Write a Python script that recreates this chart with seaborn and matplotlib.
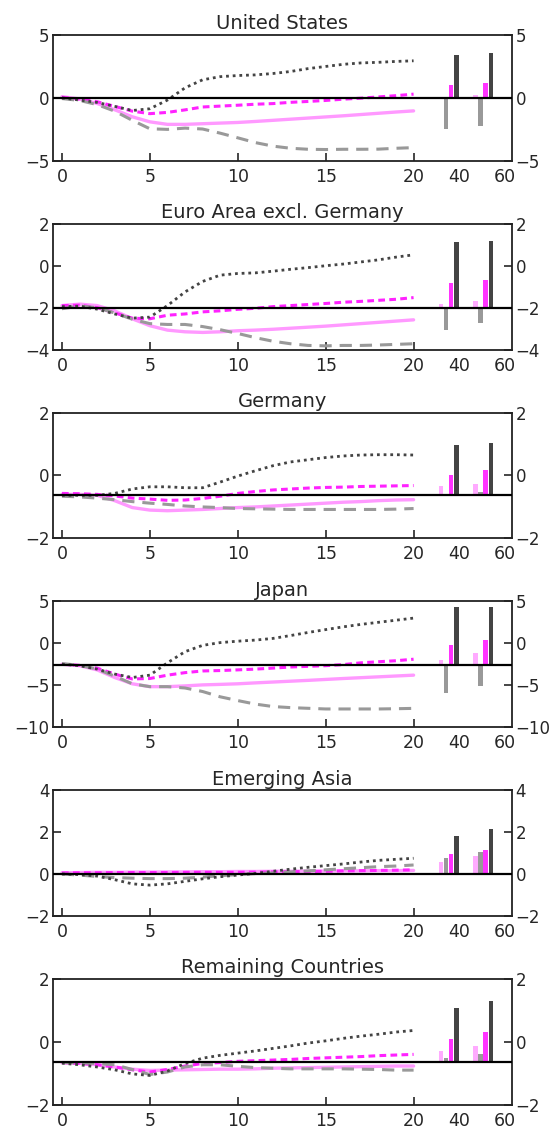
import numpy as np
import pandas as pd
import matplotlib.pyplot as plt
import seaborn as sns

# horizons of the impulse responses, plus the two long-run horizons shown as bars
horizons = list(range(21))
long_run = ['40', '60']

titles = ['United States', 'Euro Area excl. Germany', 'Germany', 'Japan',
          'Emerging Asia', 'Remaining Countries']
ylims = [(-5, 5), (-4, 2), (-2, 2), (-10, 5), (-2, 4), (-2, 2)]
yticks = [[-5, 0, 5], [-4, -2, 0, 2], [-2, 0, 2], [-10, -5, 0, 5], [-2, 0, 2, 4], [-2, 0, 2]]
baselines = [0, -2, -0.62, -2.55, 0, -0.63]

# United States
us_pink = [0.1, -0.08, -0.44, -0.94, -1.5, -1.9, -2.1, -2.1, -2.05, -2.0, -1.95, -1.87, -1.78, -1.69, -1.6, -1.51, -1.42, -1.32, -1.22, -1.12, -1.03]
us_mag = [0.05, -0.1, -0.3, -0.67, -1.05, -1.25, -1.15, -0.95, -0.72, -0.65, -0.58, -0.5, -0.45, -0.35, -0.28, -0.2, -0.1, -0.02, 0.08, 0.18, 0.3]
us_gray = [-0.05, -0.2, -0.53, -1.05, -1.78, -2.45, -2.5, -2.4, -2.47, -2.8, -3.17, -3.55, -3.83, -4.0, -4.08, -4.1, -4.08, -4.08, -4.07, -4.0, -3.95]
us_dot = [0, -0.17, -0.36, -0.67, -1.0, -0.86, -0.17, 0.8, 1.44, 1.69, 1.78, 1.83, 1.94, 2.1, 2.33, 2.5, 2.67, 2.78, 2.83, 2.9, 2.95]
us_bars = [[0.05, 0.2], [-2.5, -2.22], [1.0, 1.17], [3.42, 3.55]]

# Euro Area excl. Germany
ea_pink = [-1.9, -1.83, -1.9, -2.15, -2.53, -2.86, -3.07, -3.15, -3.18, -3.15, -3.1, -3.07, -3.03, -2.98, -2.93, -2.88, -2.82, -2.76, -2.7, -2.64, -2.58]
ea_mag = [-1.9, -1.88, -2.0, -2.25, -2.5, -2.53, -2.36, -2.3, -2.2, -2.15, -2.08, -2.03, -1.95, -1.9, -1.85, -1.8, -1.74, -1.7, -1.65, -1.6, -1.52]
ea_gray = [-2.05, -1.92, -2.0, -2.25, -2.55, -2.76, -2.8, -2.8, -2.9, -3.05, -3.23, -3.43, -3.6, -3.72, -3.8, -3.82, -3.8, -3.8, -3.78, -3.75, -3.72]
ea_dot = [-1.95, -1.93, -2.07, -2.3, -2.5, -2.45, -1.9, -1.25, -0.75, -0.45, -0.37, -0.34, -0.26, -0.17, -0.09, 0.0, 0.08, 0.18, 0.28, 0.41, 0.52]
ea_bars = [[-1.83, -1.67], [-3.08, -2.75], [-0.8, -0.7], [1.12, 1.2]]

# Germany
de_pink = [-0.6, -0.6, -0.63, -0.8, -1.02, -1.1, -1.12, -1.1, -1.08, -1.05, -1.02, -1.0, -0.97, -0.94, -0.91, -0.88, -0.85, -0.83, -0.8, -0.78, -0.77]
de_mag = [-0.57, -0.58, -0.6, -0.65, -0.72, -0.75, -0.79, -0.78, -0.73, -0.66, -0.57, -0.51, -0.46, -0.43, -0.4, -0.38, -0.37, -0.35, -0.34, -0.33, -0.32]
de_gray = [-0.66, -0.68, -0.72, -0.77, -0.83, -0.88, -0.92, -0.97, -1.0, -1.02, -1.05, -1.06, -1.07, -1.08, -1.08, -1.08, -1.08, -1.08, -1.08, -1.07, -1.05]
de_dot = [-0.63, -0.63, -0.63, -0.57, -0.43, -0.36, -0.36, -0.39, -0.39, -0.21, -0.02, 0.15, 0.31, 0.43, 0.5, 0.57, 0.62, 0.65, 0.66, 0.66, 0.65]
de_bars = [[-0.32, -0.27], [-0.62, -0.51], [0.0, 0.16], [0.96, 1.04]]

# Japan
jp_pink = [-2.5, -2.67, -3.17, -4.08, -4.83, -5.17, -5.17, -5.08, -4.96, -4.9, -4.83, -4.72, -4.62, -4.52, -4.42, -4.31, -4.2, -4.1, -4.0, -3.9, -3.8]
jp_mag = [-2.5, -2.63, -2.96, -3.67, -4.25, -4.2, -3.8, -3.5, -3.3, -3.25, -3.17, -3.08, -2.96, -2.83, -2.75, -2.67, -2.54, -2.33, -2.2, -2.08, -1.9]
jp_gray = [-2.42, -2.63, -3.08, -3.92, -4.83, -5.17, -5.17, -5.33, -5.75, -6.38, -6.83, -7.25, -7.54, -7.67, -7.75, -7.83, -7.83, -7.83, -7.83, -7.8, -7.76]
jp_dot = [-2.5, -2.67, -3.08, -3.67, -4.08, -3.8, -2.33, -1.0, -0.25, 0.08, 0.25, 0.38, 0.58, 0.92, 1.29, 1.63, 1.96, 2.25, 2.5, 2.75, 3.0]
jp_bars = [[-2.03, -1.2], [-5.88, -5.04], [-0.15, 0.35], [4.33, 4.33]]

# Emerging Asia
as_pink = [0.06, 0.07, 0.08, 0.08, 0.09, 0.09, 0.1, 0.1, 0.11, 0.11, 0.12, 0.12, 0.13, 0.13, 0.14, 0.14, 0.15, 0.15, 0.16, 0.16, 0.17]
as_mag = [0.05, 0.06, 0.06, 0.07, 0.07, 0.07, 0.07, 0.08, 0.08, 0.08, 0.08, 0.09, 0.1, 0.11, 0.12, 0.13, 0.15, 0.16, 0.17, 0.18, 0.2]
as_gray = [0, -0.05, -0.12, -0.17, -0.2, -0.22, -0.22, -0.2, -0.15, -0.08, -0.03, 0.02, 0.05, 0.1, 0.15, 0.2, 0.25, 0.3, 0.35, 0.38, 0.43]
as_dot = [0, -0.03, -0.1, -0.27, -0.47, -0.53, -0.47, -0.35, -0.23, -0.13, -0.05, 0.03, 0.13, 0.23, 0.32, 0.4, 0.48, 0.57, 0.65, 0.7, 0.75]
as_bars = [[0.57, 0.84], [0.74, 1.03], [0.94, 1.15], [1.8, 2.14]]

# Remaining Countries
rc_pink = [-0.66, -0.68, -0.73, -0.8, -0.87, -0.91, -0.9, -0.89, -0.88, -0.87, -0.87, -0.86, -0.84, -0.83, -0.82, -0.81, -0.8, -0.79, -0.78, -0.77, -0.77]
rc_mag = [-0.66, -0.69, -0.73, -0.8, -0.89, -0.96, -0.88, -0.77, -0.69, -0.66, -0.62, -0.6, -0.58, -0.56, -0.53, -0.51, -0.49, -0.47, -0.44, -0.42, -0.4]
rc_gray = [-0.66, -0.67, -0.69, -0.73, -0.88, -1.04, -0.96, -0.8, -0.73, -0.73, -0.78, -0.82, -0.84, -0.86, -0.86, -0.86, -0.86, -0.87, -0.88, -0.9, -0.9]
rc_dot = [-0.68, -0.73, -0.8, -0.89, -1.02, -1.07, -0.93, -0.69, -0.52, -0.43, -0.36, -0.29, -0.21, -0.13, -0.04, 0.03, 0.11, 0.18, 0.24, 0.31, 0.36]
rc_bars = [[-0.3, -0.12], [-0.5, -0.39], [0.08, 0.3], [1.07, 1.3]]

lines = [
    [us_pink, us_mag, us_gray, us_dot],
    [ea_pink, ea_mag, ea_gray, ea_dot],
    [de_pink, de_mag, de_gray, de_dot],
    [jp_pink, jp_mag, jp_gray, jp_dot],
    [as_pink, as_mag, as_gray, as_dot],
    [rc_pink, rc_mag, rc_gray, rc_dot],
]
bars = [us_bars, ea_bars, de_bars, jp_bars, as_bars, rc_bars]

# styles: (colour, linewidth, dashes)
line_styles = [
    ('#ff99ff', 2.4, None),
    ('#ff22ff', 2.2, (2.2, 1.4)),
    ('#999999', 2.2, (4.0, 2.6)),
    ('#444444', 2.0, (1.0, 1.4)),
]
bar_colors = ['#ffaaff', '#999999', '#ff33ff', '#444444']  # pink, gray, magenta, dark
group_pos = [22.0, 23.95]
bar_step = 0.29
bar_w = 0.24

sns.set_style('ticks')
plt.rcParams['font.family'] = ['DejaVu Sans']

fig, axes = plt.subplots(6, 1, figsize=(5.5, 11.29), dpi=100)
fig.subplots_adjust(left=0.096, right=0.931, top=0.969, bottom=0.0215, hspace=0.5)

for i, ax in enumerate(axes):
    base = baselines[i]
    for vals, (col, lw, dash) in zip(lines[i], line_styles):
        df = pd.DataFrame({'h': horizons, 'v': vals})
        sns.lineplot(data=df, x='h', y='v', ax=ax, color=col, linewidth=lw)
        if dash is not None:
            ax.lines[-1].set_dashes(dash)
        ax.lines[-1].set_dash_capstyle('butt')

    for k in range(4):
        vals = np.array(bars[i][k])
        offs = (k - 1.5) * bar_step
        ax.bar(np.array(group_pos) + offs, vals - base, bottom=base,
               width=bar_w, color=bar_colors[k], linewidth=0)

    ax.axhline(base, color='black', lw=1.6, zorder=5)

    ax.set_xlim(-0.52, 25.6)
    ax.set_ylim(*ylims[i])
    ax.set_yticks(yticks[i])
    ax.set_xticks([0, 5, 10, 15, 20])
    ax.set_xticks([22.6, 25.2], minor=True)
    ax.set_xticklabels(long_run, minor=True)
    ax.tick_params(axis='x', which='major', direction='in', length=6, width=1.2,
                   labelsize=12.5, pad=5, top=False)
    ax.tick_params(axis='x', which='minor', direction='in', length=0,
                   labelsize=12.5, pad=5)
    ax.tick_params(axis='y', direction='in', length=6, width=1.2, labelsize=12,
                   left=True, right=True, labelleft=True, labelright=True, pad=2.5)
    ax.set_xlabel('')
    ax.set_ylabel('')
    for s in ax.spines.values():
        s.set_visible(True)
        s.set_linewidth(1.3)
        s.set_color('#222222')
    ax.set_title(titles[i], fontsize=14, pad=4)

fig.savefig('out.png', dpi=100)
